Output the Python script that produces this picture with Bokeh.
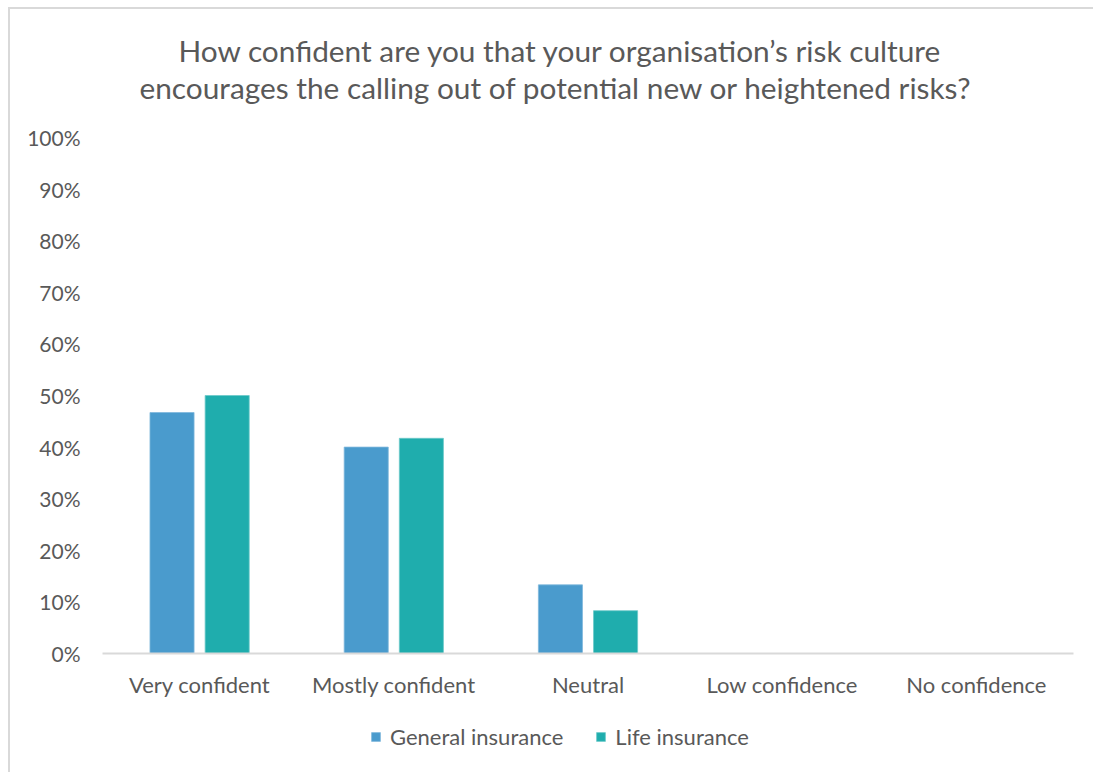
from bokeh.plotting import figure
from bokeh.layouts import column
from bokeh.models import (FactorRange, Range1d, FixedTicker, PrintfTickFormatter,
                          Title, Legend, LegendItem, ColumnDataSource)
from bokeh.transform import dodge
from bokeh.embed import file_html
from bokeh.resources import INLINE

# ---- data ----
categories = ["Very confident", "Mostly confident", "Neutral", "Low confidence", "No confidence"]
general_insurance = [46.7, 40.0, 13.3, 0.0, 0.0]
life_insurance = [50.0, 41.7, 8.3, 0.0, 0.0]
y_ticks = [0, 10, 20, 30, 40, 50, 60, 70, 80, 90, 100]
title_lines = ["How confident are you that your organisation\u2019s risk culture",
               "encourages the calling out of potential new or heightened risks?"]
series_names = ["General insurance", "Life insurance"]

FONT = "Lato"
TXT = "#595959"
GEN_COLOR = "#4A9BCD"
LIFE_COLOR = "#1FADAD"
GEN_EDGE = "#7fb7dc"
LIFE_EDGE = "#6cc9c9"

source = ColumnDataSource(dict(cat=categories, gen=general_insurance, life=life_insurance))
x_range = FactorRange(factors=categories)

p = figure(width=1083, height=694, x_range=x_range,
           y_range=Range1d(0, 100), output_backend="svg", toolbar_location=None,
           min_border_left=92, min_border_right=20, min_border_top=128, min_border_bottom=50)

r1 = p.vbar(x=dodge("cat", -0.142, range=x_range), top="gen", width=0.227, source=source,
            fill_color=GEN_COLOR, line_color=GEN_EDGE, line_width=0.8)
r2 = p.vbar(x=dodge("cat", 0.142, range=x_range), top="life", width=0.227, source=source,
            fill_color=LIFE_COLOR, line_color=LIFE_EDGE, line_width=0.8)

p.outline_line_color = None
p.xgrid.grid_line_color = None
p.ygrid.grid_line_color = None
p.background_fill_color = "white"
p.border_fill_color = "white"

# y axis
p.yaxis.ticker = FixedTicker(ticks=y_ticks)
p.yaxis.formatter = PrintfTickFormatter(format="%d%%")
p.yaxis.axis_line_color = None
p.yaxis.major_tick_line_color = None
p.yaxis.minor_tick_line_color = None
p.yaxis.major_tick_out = 0
p.yaxis.major_label_standoff = 22
p.yaxis.major_label_text_font = FONT
p.yaxis.major_label_text_font_size = "21px"
p.yaxis.major_label_text_color = TXT

# x axis
p.xaxis.axis_line_color = "#d9d9d9"
p.xaxis.axis_line_width = 2
p.xaxis.major_tick_line_color = None
p.xaxis.minor_tick_line_color = None
p.xaxis.major_tick_out = 0
p.xaxis.major_label_standoff = 17
p.xaxis.major_label_text_font = FONT
p.xaxis.major_label_text_font_size = "22px"
p.xaxis.major_label_text_color = TXT

# two-line title, with a blank spacer between it and the plot area
spacer = Title(text=" ", text_font_size="10px", standoff=20)
t2 = Title(text=title_lines[1], align="left", offset=37, text_font=FONT,
           text_font_size="29.8px", text_color=TXT, text_font_style="normal", standoff=0)
t1 = Title(text=title_lines[0], align="left", offset=76, text_font=FONT,
           text_font_size="29.8px", text_color=TXT, text_font_style="normal", standoff=0)
p.add_layout(spacer, "above")
p.add_layout(t2, "above")
p.add_layout(t1, "above")

# legend strip below the chart (same data, drawn outside its visible y-range)
lf = figure(width=1083, height=69, x_range=x_range, y_range=Range1d(1000, 2000),
            output_backend="svg", toolbar_location=None,
            x_axis_location=None, y_axis_location=None, min_border=0)
lf.outline_line_color = None
lf.grid.grid_line_color = None
lf.border_fill_color = "white"
lg1 = lf.vbar(x=dodge("cat", -0.142, range=x_range), top="gen", width=0.227, source=source,
              fill_color=GEN_COLOR, line_color=GEN_EDGE, line_width=0.8)
lg2 = lf.vbar(x=dodge("cat", 0.142, range=x_range), top="life", width=0.227, source=source,
              fill_color=LIFE_COLOR, line_color=LIFE_EDGE, line_width=0.8)
legend = Legend(items=[LegendItem(label=series_names[0], renderers=[lg1]),
                       LegendItem(label=series_names[1], renderers=[lg2])],
                orientation="horizontal", location=(268, 22),
                glyph_width=11, glyph_height=11, label_standoff=9, spacing=32,
                label_text_font=FONT, label_text_font_size="22px", label_text_color=TXT,
                border_line_color=None, background_fill_alpha=0, margin=0, padding=0)
lf.add_layout(legend, "center")

layout = column(p, lf, spacing=0)
layout.styles = {"margin-left": "8px", "margin-top": "7px",
                 "border-left": "2px solid #d9d9d9", "border-top": "2px solid #d9d9d9"}

open("out.html", "w").write(file_html(layout, INLINE))
